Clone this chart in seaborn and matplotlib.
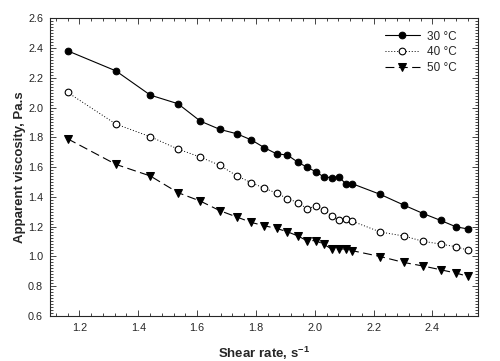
import pandas as pd
import matplotlib.pyplot as plt
import seaborn as sns
from matplotlib.ticker import MultipleLocator

sns.set_style('ticks')
plt.rcParams['font.family'] = ['Liberation Sans', 'DejaVu Sans']
plt.rcParams['mathtext.fontset'] = 'custom'
plt.rcParams['mathtext.rm'] = 'Liberation Sans'
plt.rcParams['mathtext.bf'] = 'Liberation Sans:bold'

# Data
shear_rate = [1.160, 1.324, 1.441, 1.535, 1.611, 1.678, 1.735, 1.785, 1.829, 1.870,
              1.907, 1.943, 1.973, 2.004, 2.031, 2.057, 2.083, 2.106, 2.126, 2.223,
              2.303, 2.369, 2.428, 2.480, 2.522]
visc_30 = [2.382, 2.247, 2.084, 2.026, 1.909, 1.853, 1.824, 1.782, 1.730, 1.689,
           1.681, 1.632, 1.600, 1.568, 1.533, 1.529, 1.535, 1.484, 1.489, 1.416,
           1.344, 1.287, 1.241, 1.198, 1.183]
visc_40 = [2.102, 1.889, 1.804, 1.721, 1.667, 1.611, 1.541, 1.494, 1.457, 1.425,
           1.388, 1.361, 1.321, 1.336, 1.313, 1.272, 1.244, 1.250, 1.237, 1.163,
           1.136, 1.100, 1.082, 1.064, 1.040]
visc_50 = [1.790, 1.618, 1.540, 1.428, 1.371, 1.306, 1.264, 1.227, 1.205, 1.187,
           1.165, 1.136, 1.105, 1.105, 1.080, 1.049, 1.049, 1.049, 1.038, 0.998,
           0.958, 0.934, 0.909, 0.887, 0.864]
labels = ['30 °C', '40 °C', '50 °C']

df = pd.DataFrame({'shear': shear_rate, 't30': visc_30, 't40': visc_40, 't50': visc_50})

fig = plt.figure(figsize=(5, 3.61), dpi=100)
ax = fig.add_axes([0.1, 0.1255, 0.856, 0.8235])

sns.lineplot(data=df, x='shear', y='t30', ax=ax, sort=False, color='black',
             linewidth=0.8, linestyle='-', marker='o', markersize=4.8,
             markerfacecolor='black', markeredgecolor='black', label=labels[0])
sns.lineplot(data=df, x='shear', y='t40', ax=ax, sort=False, color='black',
             linewidth=0.7, linestyle=(0, (1, 2)), marker='o', markersize=4.8,
             markerfacecolor='white', markeredgecolor='black', markeredgewidth=0.8,
             label=labels[1])
sns.lineplot(data=df, x='shear', y='t50', ax=ax, sort=False, color='black',
             linewidth=0.8, linestyle=(0, (8, 4)), marker='v', markersize=5.2,
             markerfacecolor='black', markeredgecolor='black', label=labels[2])

ax.set_xlim(1.1, 2.555)
ax.set_ylim(0.6, 2.6)
ax.xaxis.set_major_locator(MultipleLocator(0.2))
ax.xaxis.set_minor_locator(MultipleLocator(0.04))
ax.yaxis.set_major_locator(MultipleLocator(0.2))
ax.yaxis.set_minor_locator(MultipleLocator(0.02))
ax.tick_params(which='both', direction='in', top=True, right=True, labelsize=7.8, width=0.6)
ax.tick_params(which='major', length=4, pad=5)
ax.tick_params(which='minor', length=2.5)
ax.set_xticks([1.2, 1.4, 1.6, 1.8, 2.0, 2.2, 2.4])
ax.set_xticklabels(['1.2', '1.4', '1.6', '1.8', '2.0', '2.2', '2.4'])
for s in ax.spines.values():
    s.set_linewidth(0.8)

ax.set_xlabel(r'Shear rate, s$\mathbf{^{-1}}$', fontsize=9.5, fontweight='bold', labelpad=9)
ax.set_ylabel('Apparent viscosity, Pa.s', fontsize=9.5, fontweight='bold', labelpad=1)

ax.legend(loc='upper right', bbox_to_anchor=(0.962, 0.975), borderaxespad=0,
          frameon=False, fontsize=8.5, handlelength=2.9, labelspacing=0.3,
          handletextpad=0.65)

fig.savefig('out.png', dpi=100)
